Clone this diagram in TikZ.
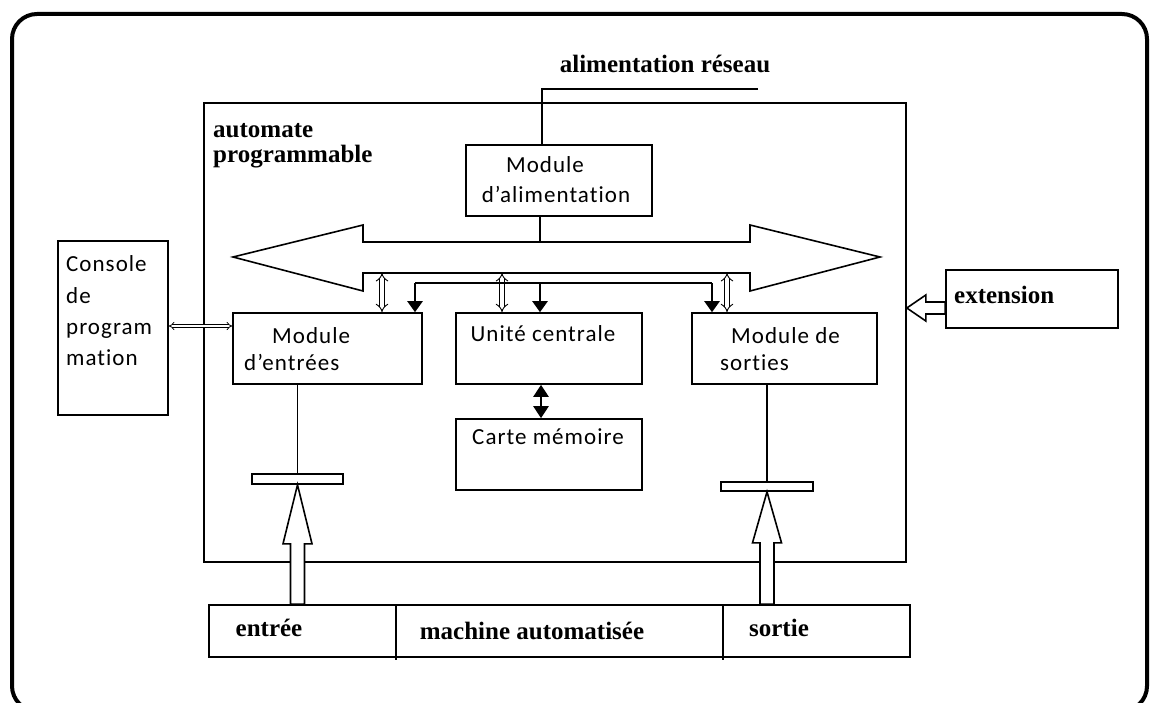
\documentclass[tikz,border=0pt]{standalone}
\usepackage{fontspec}
\setmainfont{Liberation Serif}
\newfontfamily\calib[LetterSpace=4.5, Ligatures=NoCommon, RawFeature={-liga}]{Carlito}
\usetikzlibrary{arrows.meta,calc}
\begin{document}
\begin{tikzpicture}[x=1pt,y=-1pt,
  box/.style={draw, line width=1.6pt, inner sep=0pt},
  ln/.style={line width=1.6pt},
  lbl/.style={font=\fontsize{25}{28}\selectfont\bfseries, inner sep=0pt, text height=12pt, text depth=0pt},
  sans/.style={font=\calib\fontsize{23}{30}\selectfont, inner sep=0pt, text height=11pt, text depth=0pt},
  blk/.style={line width=2.4pt, -{Triangle[width=15pt,length=11pt]}},
  blkdbl/.style={line width=2.4pt, {Triangle[width=15pt,length=12pt]}-{Triangle[width=15pt,length=12pt]}},
  hol/.style={double, double distance=3.5pt, line width=0.9pt, {Implies}-{Implies}},
  holthin/.style={double, double distance=2pt, line width=0.8pt, {Implies}-{Implies}},
  blockarrow/.style={draw, line width=1.6pt, fill=white, line join=miter}
]
\useasboundingbox (0,0) rectangle (1150,703);
% outer frame
\draw[line width=4pt, rounded corners=25pt] (12,14) rectangle (1147,711);

% boxes
\node[box, minimum width=702pt, minimum height=459pt] (main) at (555,332.5) {};
\node[box, minimum width=186pt, minimum height=71pt] (alim) at (559,180.5) {};
\node[box, minimum width=189pt, minimum height=71pt] (entrees) at (327.5,348.5) {};
\node[box, minimum width=186pt, minimum height=71pt] (uc) at (549,348.5) {};
\node[box, minimum width=185pt, minimum height=71pt] (sorties) at (784.5,348.5) {};
\node[box, minimum width=186pt, minimum height=71pt] (carte) at (549,454.5) {};
\node[box, minimum width=110pt, minimum height=174pt] (console) at (113,328) {};
\node[box, minimum width=172pt, minimum height=58pt] (ext) at (1032,299) {};
\node[box, minimum width=701pt, minimum height=52pt] (bottom) at (559.5,631) {};
\node[box, minimum width=91pt, minimum height=10pt] (barin) at (297.5,479) {};
\node[box, minimum width=92pt, minimum height=9pt] (barout) at (767,486.5) {};

% dividers of the bottom box
\coordinate (d1) at (396,660);
\coordinate (d2) at (723,660);
\draw[ln] (d1 |- bottom.north) -- (d1);
\draw[ln] (d2 |- bottom.north) -- (d2);

% texts
\node[lbl] (t-res) at (665,67) {alimentation réseau};
\node[lbl, anchor=west] (t-aut1) at (213,132) {automate};
\node[lbl, anchor=west] (t-aut2) at (213,157) {programmable};
\node[sans] (t-al1) at (545,167) {Module};
\node[sans] (t-al2) at (556,197) {d’alimentation};
\node[lbl] (t-bus) at (466,258) {bus interne};
\node[sans, anchor=west] (t-e1) at (272,338) {Module};
\node[sans, anchor=west] (t-e2) at (244,365) {d’entrées};
\node[sans] (t-uc) at (543,336) {Unité centrale};
\node[sans, anchor=west] (t-s1) at (731,338) {Module de};
\node[sans, anchor=west] (t-s2) at (720,365) {sorties};
\node[sans] (t-cm) at (548,439) {Carte mémoire};
\node[sans, anchor=west] (t-c1) at (66,266) {Console};
\node[sans, anchor=west] (t-c2) at (66,298) {de};
\node[sans, anchor=west] (t-c3) at (66,329) {program};
\node[sans, anchor=west] (t-c4) at (66,360) {mation};
\node[lbl, anchor=west] (t-ext) at (954,297) {extension};
\node[lbl] (t-in) at (269,630) {entrée};
\node[lbl] (t-mach) at (532,633) {machine automatisée};
\node[lbl] (t-out) at (779,630) {sortie};

% power supply line
\coordinate (pw) at (758,89);
\coordinate (pwx) at (542,0);
\draw[ln] (pw) -- (pw -| pwx) -- (alim.north -| pwx);

% internal bus (double block arrow)
\draw[blockarrow] (233,257) -- (363,225) -- (363,242) -- (750,242) -- (750,225) -- (880,257)
  -- (750,291) -- (750,273) -- (363,273) -- (363,291) -- cycle;
\coordinate (bustop) at (540,242);
\coordinate (busbot) at (0,273);
\draw[ln] (alim.south -| bustop) -- (bustop);

% hollow double arrows bus <-> modules
\coordinate (h1) at (382,0);
\coordinate (h2) at (502,0);
\coordinate (h3) at (727,0);
\draw[hol] (busbot -| h1) -- (entrees.north -| h1);
\draw[hol] (busbot -| h2) -- (uc.north -| h2);
\draw[hol] (busbot -| h3) -- (sorties.north -| h3);

% black control arrows
\coordinate (k1) at (415,283);
\coordinate (k2) at (540,283);
\coordinate (k3) at (712,283);
\draw[ln, line width=2pt] (k1) -- (k3);
\draw[blk] (k1) -- (entrees.north -| k1);
\draw[blk] (k2) -- (uc.north -| k2);
\draw[blk] (k3) -- (sorties.north -| k3);

% CPU <-> memory
\draw[blkdbl] ($(uc.south)+(-8,0)$) -- ($(carte.north)+(-8,0)$);

% console <-> input module
\draw[holthin] ($(console.east)+(0,-2)$) -- ($(console.east -| entrees.west)+(0,-2)$);

% module lines to terminal bars
\draw[ln] (entrees.south -| barin.north) -- (barin.north);
\draw[ln] (sorties.south -| barout.north) -- (barout.north);

% input and output hollow arrows
\draw[blockarrow] let \p1=(barin.south), \p2=(bottom.north) in
  (\x1,\y1) -- (\x1+14.5pt,\y1-59pt) -- (\x1+7pt,\y1-59pt) -- (\x1+7pt,\y2)
  -- (\x1-7pt,\y2) -- (\x1-7pt,\y1-59pt) -- (\x1-14.5pt,\y1-59pt) -- cycle;
\draw[blockarrow] let \p1=(barout.south), \p2=(bottom.north) in
  (\x1,\y1) -- (\x1+14.5pt,\y1-51pt) -- (\x1+7pt,\y1-51pt) -- (\x1+7pt,\y2)
  -- (\x1-7pt,\y2) -- (\x1-7pt,\y1-51pt) -- (\x1-14.5pt,\y1-51pt) -- cycle;

% extension arrow
\draw[blockarrow] let \p1=(ext.west), \p2=(main.east) in
  (\x2,\y1-9pt) -- (\x2+19pt,\y1+4pt) -- (\x2+19pt,\y1-3pt) -- (\x1,\y1-3pt)
  -- (\x1,\y1-15pt) -- (\x2+19pt,\y1-15pt) -- (\x2+19pt,\y1-22pt) -- cycle;
\end{tikzpicture}
\end{document}
